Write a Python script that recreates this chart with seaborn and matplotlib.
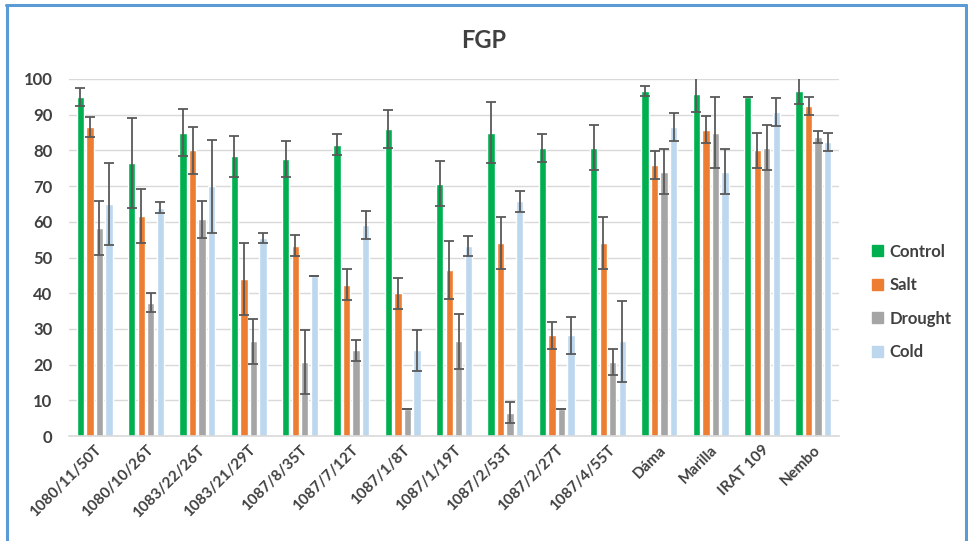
import numpy as np
import pandas as pd
import matplotlib
matplotlib.use("Agg")
import matplotlib.pyplot as plt
from matplotlib.lines import Line2D
import seaborn as sns

# Genotypes (x axis)
genotypes = ["1080/11/50T", "1080/10/26T", "1083/22/26T", "1083/21/29T", "1087/8/35T",
             "1087/7/12T", "1087/1/8T", "1087/1/19T", "1087/2/53T", "1087/2/27T",
             "1087/4/55T", "Dáma", "Marilla", "IRAT 109", "Nembo"]
treatments = ["Control", "Salt", "Drought", "Cold"]

# Final germination percentage (mean) per treatment
control = [95.0, 76.5, 85.0, 78.3, 77.5, 81.6, 85.9, 70.7, 85.0, 80.7, 80.7, 96.6, 95.8, 94.9, 96.6]
salt = [86.6, 61.6, 80.0, 44.0, 53.3, 42.4, 40.0, 46.5, 54.1, 28.2, 54.1, 75.9, 85.8, 80.0, 92.4]
drought = [58.2, 37.4, 60.7, 26.5, 20.7, 24.0, 7.5, 26.5, 6.5, 7.5, 20.7, 74.0, 85.0, 80.7, 83.8]
cold = [65.0, 64.0, 70.0, 55.6, 44.9, 59.1, 24.0, 53.2, 65.7, 28.2, 26.5, 86.6, 74.0, 90.8, 82.4]

# Error (± half-range) per treatment
control_err = [2.6, 12.5, 6.6, 5.7, 5.0, 2.9, 5.3, 6.3, 8.6, 4.0, 6.3, 1.5, 5.1, 0.0, 3.6]
salt_err = [2.8, 7.6, 6.6, 10.0, 2.9, 4.4, 4.3, 8.1, 7.2, 3.8, 7.2, 3.9, 3.8, 5.0, 2.5]
drought_err = [7.6, 2.6, 5.1, 6.4, 8.9, 2.9, 0.0, 7.7, 2.9, 0.0, 3.7, 6.3, 10.0, 6.3, 1.6]
cold_err = [11.4, 1.6, 13.0, 1.4, 0.0, 3.9, 5.8, 2.9, 3.0, 5.2, 11.3, 3.9, 6.3, 3.9, 2.6]

colors = ["#00B050", "#ED7D31", "#A5A5A5", "#BDD7EE"]
text_color = "#404040"

means = {"Control": control, "Salt": salt, "Drought": drought, "Cold": cold}
errs = {"Control": control_err, "Salt": salt_err, "Drought": drought_err, "Cold": cold_err}

df = pd.DataFrame([
    {"Genotype": g, "Treatment": t, "FGP": means[t][i]}
    for t in treatments for i, g in enumerate(genotypes)
])

sns.set_style("white")
plt.rcParams["font.family"] = ["Lato", "DejaVu Sans"]

fig = plt.figure(figsize=(9.68, 5.41), dpi=100)
ax = fig.add_axes([0.0713, 0.194, 0.7954, 0.660])

sns.barplot(data=df, x="Genotype", y="FGP", hue="Treatment", order=genotypes,
            hue_order=treatments, palette=colors, errorbar=None, width=0.74,
            gap=0.23, saturation=1, ax=ax, legend=True)

# Error bars placed on the bar centres
for cont, t in zip(ax.containers, treatments):
    xs = [p.get_x() + p.get_width() / 2 for p in cont.patches]
    ys = [p.get_height() for p in cont.patches]
    ax.errorbar(xs, ys, yerr=errs[t], fmt="none", ecolor="#595959",
                elinewidth=1.3, capsize=3.4, capthick=1.3, zorder=5)

ax.set_ylim(0, 100)
ax.set_xlim(-0.5, len(genotypes) - 0.5)
ax.set_yticks(np.arange(0, 101, 10))
ax.yaxis.grid(True, color="#D9D9D9", linewidth=1)
ax.set_axisbelow(True)
for s in ["top", "right", "left"]:
    ax.spines[s].set_visible(False)
ax.spines["bottom"].set_color("#D9D9D9")
ax.spines["bottom"].set_linewidth(1.2)
ax.set_xlabel("")
ax.set_ylabel("")
ax.tick_params(axis="y", length=0, pad=12, labelsize=12, labelcolor=text_color)
ax.tick_params(axis="x", length=0, pad=5, labelsize=11, labelcolor=text_color)
for lab in ax.get_yticklabels():
    lab.set_fontweight("bold")
for lab in ax.get_xticklabels():
    lab.set_rotation(45)
    lab.set_ha("right")
    lab.set_va("top")
    lab.set_rotation_mode("anchor")
    lab.set_fontweight("bold")

ax.set_title("")
fig.text(0.5, 0.925, "FGP", ha="center", va="center", fontsize=17,
         fontweight="bold", color=text_color)

# Legend at the right
ax.get_legend().remove()
handles = [plt.Rectangle((0, 0), 1, 1, color=c) for c in colors]
leg = fig.legend(handles, treatments, loc="center left", bbox_to_anchor=(0.885, 0.442),
                 frameon=False, handlelength=0.65, handleheight=0.65, handletextpad=0.4,
                 labelspacing=1.05, prop={"weight": "bold", "size": 12})
for txt in leg.get_texts():
    txt.set_color(text_color)

# Chart frame
frame_kw = dict(color="#5B9BD5", linewidth=2.2, transform=fig.transFigure)
fig.add_artist(Line2D([0.0062, 0.998], [0.9908, 0.9908], **frame_kw))
fig.add_artist(Line2D([0.0072, 0.0072], [0.0, 0.9908], **frame_kw))
fig.add_artist(Line2D([0.9975, 0.9975], [0.0, 0.9908], **frame_kw))

fig.savefig("out.png", dpi=100)
